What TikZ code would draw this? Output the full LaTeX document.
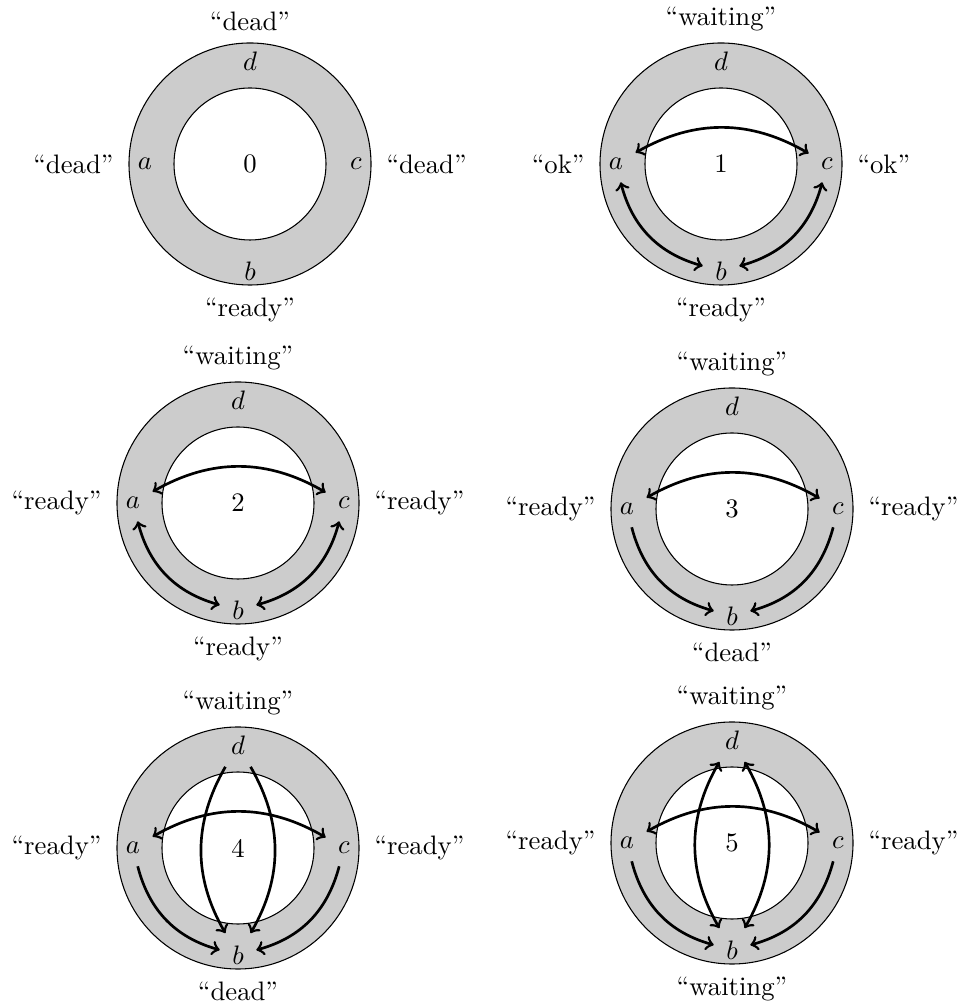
\documentclass[tikz,border=0pt]{standalone}
\newcommand\ringpic[8]{%
  \begin{scope}[shift={(#1,#2)}]
    \filldraw[ringfill] (0,0) circle[radius=121];
    \filldraw[holefill] (0,0) circle[radius=76];
    \node[numnode] (n#3) at (0,0) {#4};
    \node[lett] (a#3) at (-105,0) {$a$};
    \node[lett] (c#3) at (106,0) {$c$};
    \node[lett] (d#3) at (0,103) {$d$};
    \node[lett] (b#3) at (0,-107) {$b$};
    \node[lab,anchor=south] (t#3) at (0,132.5) {#5};
    \node[lab,anchor=east] (l#3) at (-136,0) {#6};
    \node[lab,anchor=west] (r#3) at (136,0) {#7};
    \node[lab,anchor=north] (s#3) at (0,-133) {#8};
  \end{scope}}
\begin{document}
\begin{tikzpicture}[x=0.3745pt,y=0.3745pt,
  ringfill/.style={fill=black!20,draw=black,line width=0.4pt},
  holefill/.style={fill=white,draw=black,line width=0.4pt},
  numnode/.style={inner sep=0pt},
  lett/.style={inner sep=4.5pt},
  lab/.style={inner sep=0pt},
  arr/.style={line width=1pt}]
\useasboundingbox (0,0) rectangle (961,1004);
% row 1
\ringpic{250}{840}{0}{0}{“dead”}{“dead”}{“dead”}{“ready”}
\ringpic{721}{840}{1}{1}{“waiting”}{“ok”}{“ok”}{“ready”}
% row 2
\ringpic{238}{501}{2}{2}{“waiting”}{“ready”}{“ready”}{“ready”}
\ringpic{732}{495}{3}{3}{“waiting”}{“ready”}{“ready”}{“dead”}
% row 3
\ringpic{238}{156}{4}{4}{“waiting”}{“ready”}{“ready”}{“dead”}
\ringpic{732}{161}{5}{5}{“waiting”}{“ready”}{“ready”}{“waiting”}
% arrows diagram 1
\draw[arr,<->] (a1) to[bend left=30] (c1);
\draw[arr,<->] (a1) to[bend right=30] (b1);
\draw[arr,<->] (b1) to[bend right=30] (c1);
% arrows diagram 2
\draw[arr,<->] (a2) to[bend left=30] (c2);
\draw[arr,<->] (a2) to[bend right=30] (b2);
\draw[arr,<->] (b2) to[bend right=30] (c2);
% arrows diagram 3
\draw[arr,<->] (a3) to[bend left=30] (c3);
\draw[arr,->] (a3) to[bend right=30] (b3);
\draw[arr,->] (c3) to[bend left=30] (b3);
% arrows diagram 4
\draw[arr,<->] (a4) to[bend left=30] (c4);
\draw[arr,->] (a4) to[bend right=30] (b4);
\draw[arr,->] (c4) to[bend left=30] (b4);
\draw[arr,->] (d4) to[bend right=30] (b4);
\draw[arr,->] (d4) to[bend left=30] (b4);
% arrows diagram 5
\draw[arr,<->] (a5) to[bend left=30] (c5);
\draw[arr,->] (a5) to[bend right=30] (b5);
\draw[arr,->] (c5) to[bend left=30] (b5);
\draw[arr,<->] (d5) to[bend right=30] (b5);
\draw[arr,<->] (d5) to[bend left=30] (b5);
\end{tikzpicture}
\end{document}
